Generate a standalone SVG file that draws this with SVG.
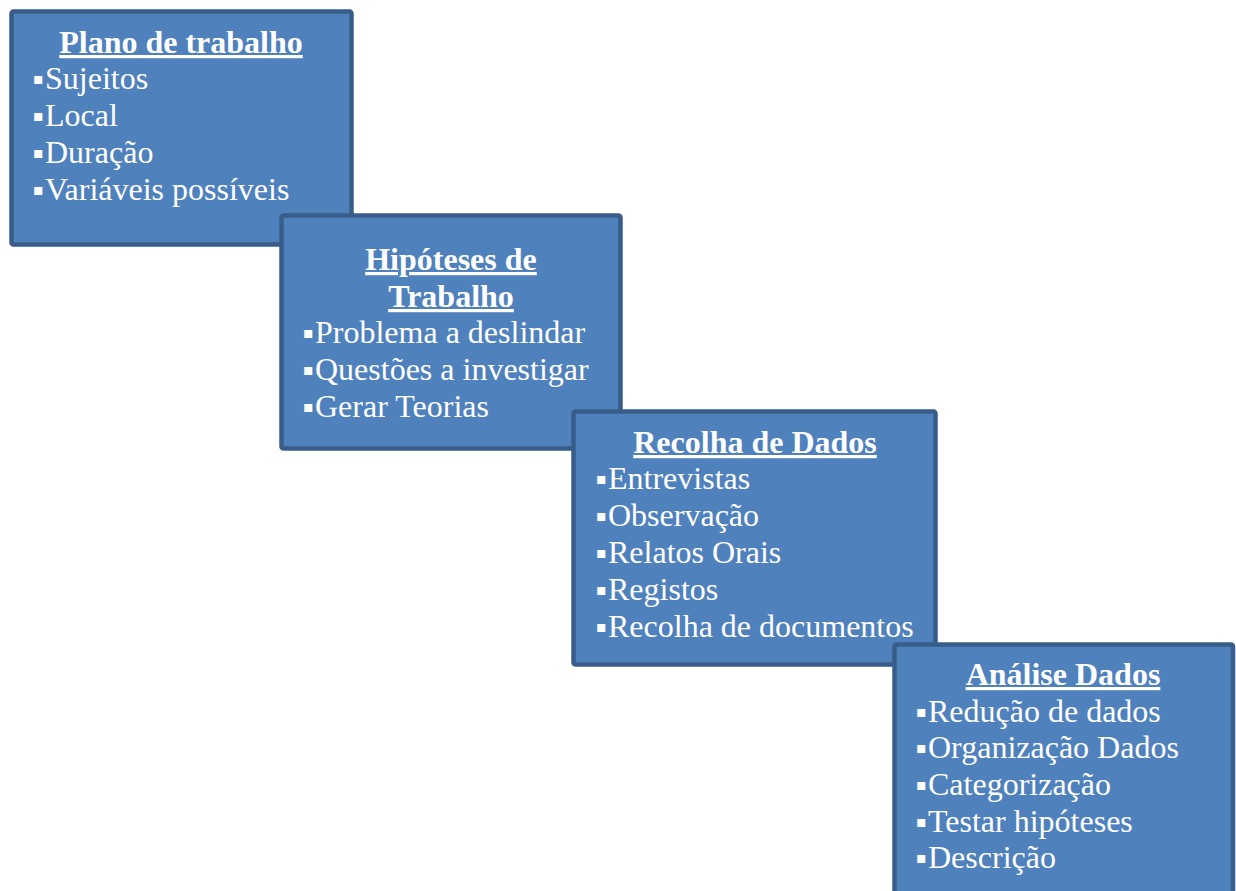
<svg xmlns="http://www.w3.org/2000/svg" width="1236" height="891" viewBox="0 0 1236 891">
<style>
.box{fill:#4F81BD;stroke:#385D8A;stroke-width:4.5}
text{font-family:"Liberation Serif","Times New Roman",serif;fill:#fff;font-size:32px}
.t{font-weight:bold;text-anchor:middle;text-decoration:underline}
.b{font-family:"DejaVu Sans",sans-serif;font-size:16px}
</style>
<rect width="1236" height="891" fill="#fff"/>
<g id="connectors"/>
<g id="plano">
<rect class="box" x="11.5" y="11.5" width="340" height="233" rx="2"/>
<text class="t" x="181" y="53">Plano de trabalho</text>
<text y="89"><tspan class="b" x="33" dy="-5">▪</tspan><tspan x="45" dy="5">Sujeitos</tspan></text>
<text y="126"><tspan class="b" x="33" dy="-5">▪</tspan><tspan x="45" dy="5">Local</tspan></text>
<text y="163"><tspan class="b" x="33" dy="-5">▪</tspan><tspan x="45" dy="5">Duração</tspan></text>
<text y="200"><tspan class="b" x="33" dy="-5">▪</tspan><tspan x="45" dy="5">Variáveis possíveis</tspan></text>
</g>
<g id="hipoteses">
<rect class="box" x="281.5" y="215.5" width="339" height="233" rx="2"/>
<text class="t" x="451" y="270">Hipóteses de</text>
<text class="t" x="451" y="307">Trabalho</text>
<text y="343"><tspan class="b" x="303" dy="-5">▪</tspan><tspan x="315" dy="5">Problema a deslindar</tspan></text>
<text y="380"><tspan class="b" x="303" dy="-5">▪</tspan><tspan x="315" dy="5">Questões a investigar</tspan></text>
<text y="417"><tspan class="b" x="303" dy="-5">▪</tspan><tspan x="315" dy="5">Gerar Teorias</tspan></text>
</g>
<g id="recolha">
<rect class="box" x="573.5" y="411.5" width="362" height="253" rx="2"/>
<text class="t" x="755" y="453">Recolha de Dados</text>
<text y="489"><tspan class="b" x="596" dy="-5">▪</tspan><tspan x="608" dy="5">Entrevistas</tspan></text>
<text y="526"><tspan class="b" x="596" dy="-5">▪</tspan><tspan x="608" dy="5">Observação</tspan></text>
<text y="563"><tspan class="b" x="596" dy="-5">▪</tspan><tspan x="608" dy="5">Relatos Orais</tspan></text>
<text y="600"><tspan class="b" x="596" dy="-5">▪</tspan><tspan x="608" dy="5">Registos</tspan></text>
<text y="637"><tspan class="b" x="596" dy="-5">▪</tspan><tspan x="608" dy="5">Recolha de documentos</tspan></text>
</g>
<g id="analise">
<rect class="box" x="894.5" y="644.5" width="338.5" height="270" rx="2"/>
<text class="t" x="1063" y="685">Análise Dados</text>
<text y="722"><tspan class="b" x="916" dy="-5">▪</tspan><tspan x="928" dy="5">Redução de dados</tspan></text>
<text y="758"><tspan class="b" x="916" dy="-5">▪</tspan><tspan x="928" dy="5">Organização Dados</tspan></text>
<text y="795"><tspan class="b" x="916" dy="-5">▪</tspan><tspan x="928" dy="5">Categorização</tspan></text>
<text y="832"><tspan class="b" x="916" dy="-5">▪</tspan><tspan x="928" dy="5">Testar hipóteses</tspan></text>
<text y="868"><tspan class="b" x="916" dy="-5">▪</tspan><tspan x="928" dy="5">Descrição</tspan></text>
</g>
</svg>
